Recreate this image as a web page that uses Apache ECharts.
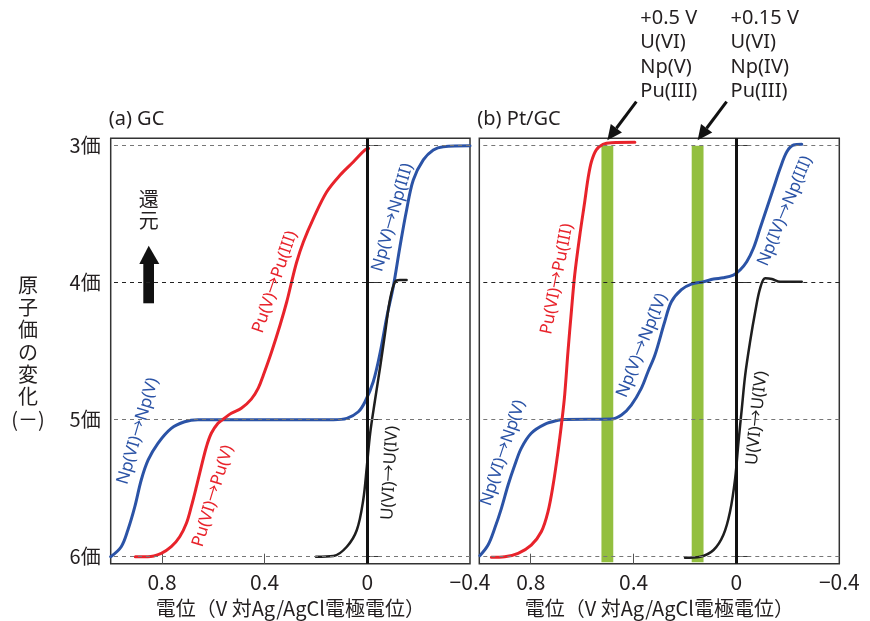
<!DOCTYPE html>
<html>
<head>
<meta charset="utf-8">
<script src="https://cdn.jsdelivr.net/npm/echarts@6/dist/echarts.min.js"></script>
<style>
  html, body { margin: 0; padding: 0; background: #fff; }
  #chart { width: 870px; height: 621px; }
</style>
</head>
<body>
<div id="chart"></div>
<script>
// valence axis and potential axis ticks
const valenceTicks = [3, 4, 5, 6];
const potentialTicks = [0.8, 0.4, 0, -0.4];
const innerTicks = [0.8, 0.4];

// (a) GC electrode : [potential V vs Ag/AgCl, valence]
const gcNp = [[1.0, 6.0], [0.959, 5.927], [0.933, 5.805], [0.906, 5.635], [0.881, 5.44], [0.854, 5.294],
  [0.816, 5.172], [0.764, 5.063], [0.712, 5.015], [0.66, 5.0], [0.4, 5.0], [0.132, 5.0], [0.08, 4.99],
  [0.035, 4.942], [0.009, 4.869], [-0.023, 4.723], [-0.05, 4.51], [-0.076, 4.248], [-0.101, 4.029],
  [-0.127, 3.737], [-0.153, 3.469], [-0.179, 3.25], [-0.218, 3.104], [-0.257, 3.031], [-0.296, 3.007], [-0.4, 3.0]];
const gcPu = [[0.904, 6.0], [0.855, 6.0], [0.803, 5.975], [0.764, 5.927], [0.731, 5.854], [0.705, 5.756],
  [0.686, 5.635], [0.666, 5.489], [0.647, 5.343], [0.627, 5.197], [0.608, 5.099], [0.582, 5.026],
  [0.562, 4.997], [0.53, 4.953], [0.491, 4.917], [0.452, 4.85], [0.425, 4.77], [0.405, 4.674],
  [0.373, 4.504], [0.34, 4.309], [0.314, 4.139], [0.295, 3.993], [0.275, 3.847], [0.249, 3.701],
  [0.21, 3.53], [0.158, 3.336], [0.106, 3.214], [0.054, 3.117], [0.009, 3.031], [-0.005, 3.02]];
const gcU = [[0.2, 6.0], [0.132, 5.995], [0.08, 5.927], [0.041, 5.805], [0.016, 5.586], [0.002, 5.343],
  [-0.011, 5.099], [-0.03, 4.856], [-0.05, 4.613], [-0.069, 4.369], [-0.088, 4.126], [-0.108, 3.993],
  [-0.127, 3.98], [-0.153, 3.98]];

// (b) Pt/GC electrode
const ptNp = [[0.998, 5.993], [0.966, 5.915], [0.94, 5.793], [0.914, 5.647], [0.888, 5.477], [0.862, 5.331],
  [0.837, 5.209], [0.798, 5.099], [0.746, 5.034], [0.694, 5.004], [0.668, 4.998], [0.486, 4.995],
  [0.447, 4.966], [0.409, 4.893], [0.37, 4.771], [0.344, 4.65], [0.317, 4.528], [0.279, 4.285],
  [0.253, 4.139], [0.214, 4.05], [0.175, 4.01], [0.128, 3.993], [0.089, 3.973], [0.051, 3.964],
  [0.012, 3.944], [-0.014, 3.907], [-0.04, 3.847], [-0.066, 3.749], [-0.092, 3.603], [-0.118, 3.457],
  [-0.144, 3.311], [-0.17, 3.165], [-0.196, 3.044], [-0.222, 2.995], [-0.254, 2.99]];
const ptPu = [[0.953, 6.004], [0.901, 6.0], [0.849, 5.975], [0.798, 5.915], [0.759, 5.818], [0.733, 5.672],
  [0.713, 5.477], [0.694, 5.234], [0.678, 4.995], [0.668, 4.82], [0.655, 4.5], [0.642, 4.212],
  [0.629, 3.944], [0.609, 3.652], [0.59, 3.409], [0.577, 3.238], [0.564, 3.117], [0.545, 3.03],
  [0.519, 2.99], [0.486, 2.978], [0.395, 2.975]];
const ptU = [[0.2, 6.007], [0.141, 6.0], [0.089, 5.951], [0.051, 5.842], [0.025, 5.672], [0.005, 5.428],
  [-0.008, 5.161], [-0.021, 4.917], [-0.034, 4.674], [-0.053, 4.431], [-0.073, 4.212], [-0.092, 4.041],
  [-0.112, 3.968], [-0.138, 3.973], [-0.17, 3.993], [-0.254, 3.993]];

// electrolysis windows on Pt/GC
const windowCenters = [0.502, 0.151];
const windowHalfWidth = 0.023;
const windowNotes = [['+0.5 V', 'U(VI)', 'Np(V)', 'Pu(III)'], ['+0.15 V', 'U(VI)', 'Np(IV)', 'Pu(III)']];

const panelTitles = ['(a) GC', '(b) Pt/GC'];
const xName = '電位（V 対Ag/AgCl電極電位）';

const RED = '#e8232b', BLUE = '#2b53a6', BLACK = '#1e1e1e', GREEN = '#93bf3f', TXT = '#231f20';
const FONT = '"Noto Sans CJK JP", "Noto Sans", sans-serif';
const LATIN = '"Noto Sans", "Noto Sans CJK JP", sans-serif';

const chart = echarts.init(document.getElementById('chart'));

const grids = [
  { left: 110.7, top: 138.3, width: 359.3, height: 425.4 },
  { left: 479.3, top: 138.3, width: 360, height: 425.4 }
].map(g => Object.assign(g, { show: true, borderColor: '#333', borderWidth: 1.5, backgroundColor: 'transparent', outerBoundsMode: 'none' }));

const xAxes = [0, 1].map(i => ({
  gridIndex: i, type: 'value', min: -0.4, max: 1.0, inverse: true,
  axisLine: { show: false }, splitLine: { show: false },
  axisTick: { inside: true, length: 10, customValues: innerTicks, lineStyle: { color: '#555', width: 1 } },
  axisLabel: {
    customValues: potentialTicks, margin: 8, fontSize: 21, color: TXT, fontFamily: FONT,
    formatter: v => (v < 0 ? '−' + (-v) : String(v))
  },
  name: xName, nameLocation: 'middle', nameGap: 35,
  nameTextStyle: { fontSize: 20, color: TXT, fontFamily: FONT }
}));

const yAxes = [0, 1].map(i => ({
  gridIndex: i, type: 'value', min: 2.946, max: 6.051, inverse: true,
  axisLine: { show: false }, splitLine: { show: false },
  axisTick: { inside: true, length: 12, customValues: valenceTicks, lineStyle: { color: '#333', width: 1 } },
  axisLabel: {
    show: i === 0, customValues: valenceTicks, margin: 10, fontSize: 20, color: TXT, fontFamily: FONT,
    formatter: v => v + '価'
  }
}));

function curve(name, data, color, idx, width) {
  return {
    name, type: 'line', data, xAxisIndex: idx, yAxisIndex: idx,
    showSymbol: false, smooth: 0.35, z: 3,
    lineStyle: { color, width, cap: 'round', join: 'round' }, itemStyle: { color }
  };
}

// dashed valence guides and green windows, drawn under curves
function backdrop(idx) {
  const s = {
    type: 'line', data: [], xAxisIndex: idx, yAxisIndex: idx, z: 1, silent: true,
    markLine: {
      symbol: ['none', 'none'], silent: true, label: { show: false },
      data: valenceTicks.map(v => ({
        yAxis: v, lineStyle: { color: v === 4 ? '#222' : '#777', type: [4, 4], width: 1 }
      }))
    }
  };
  if (idx === 1) {
    s.markArea = {
      silent: true, itemStyle: { color: GREEN, opacity: 1 },
      data: windowCenters.map(c => [
        { xAxis: c + windowHalfWidth, yAxis: 3 },
        { xAxis: c - windowHalfWidth, yAxis: 6.04 }
      ])
    };
  }
  return s;
}

function zeroLine(idx) {
  return {
    type: 'line', data: [], xAxisIndex: idx, yAxisIndex: idx, z: 5, silent: true,
    markLine: {
      symbol: ['none', 'none'], silent: true, label: { show: false },
      data: [{ xAxis: 0, lineStyle: { color: '#111', width: 3, type: 'solid' } }]
    }
  };
}

chart.setOption({
  animation: false,
  grid: grids, xAxis: xAxes, yAxis: yAxes,
  series: [
    backdrop(0), backdrop(1),
    curve('Np GC', gcNp, BLUE, 0, 3), curve('Pu GC', gcPu, RED, 0, 3), curve('U GC', gcU, BLACK, 0, 2.5),
    curve('Np Pt', ptNp, BLUE, 1, 3), curve('Pu Pt', ptPu, RED, 1, 3), curve('U Pt', ptU, BLACK, 1, 2.5),
    zeroLine(0), zeroLine(1)
  ]
});

const px = (idx, p) => chart.convertToPixel({ gridIndex: idx }, p);

function arrow(tail, tip, color, w, headLen, headW) {
  const dx = tip[0] - tail[0], dy = tip[1] - tail[1];
  const L = Math.hypot(dx, dy), ux = dx / L, uy = dy / L;
  const base = [tip[0] - ux * headLen, tip[1] - uy * headLen];
  const nx = -uy * headW / 2, ny = ux * headW / 2;
  return [
    { type: 'line', z: 10, shape: { x1: tail[0], y1: tail[1], x2: base[0], y2: base[1] }, style: { stroke: color, lineWidth: w } },
    { type: 'polygon', z: 10, shape: { points: [tip, [base[0] + nx, base[1] + ny], [base[0] - nx, base[1] - ny]] }, style: { fill: color } }
  ];
}

// curve labels: panel, anchor [V, valence], rotation deg, colour
const curveLabels = [
  [0, 'Np(VI)→Np(V)', [0.894, 5.083], 73.6, BLUE],
  [0, 'Pu(VI)→Pu(V)', [0.601, 5.557], 73, RED],
  [0, 'Pu(V)→Pu(III)', [0.360, 3.995], 71, RED],
  [0, 'Np(V)→Np(III)', [-0.098, 3.524], 74, BLUE],
  [0, 'U(VI)→U(IV)', [-0.088, 5.389], 87, BLACK],
  [1, 'Np(VI)→Np(V)', [0.908, 5.243], 71.6, BLUE],
  [1, 'Pu(VI)→Pu(III)', [0.698, 3.973], 79, RED],
  [1, 'Np(V)→Np(IV)', [0.367, 4.458], 68, BLUE],
  [1, 'Np(IV)→Np(III)', [-0.189, 3.477], 67.4, BLUE],
  [1, 'U(VI)→U(IV)', [-0.079, 4.988], 84, BLACK]
];

const graphic = [];
curveLabels.forEach(([idx, text, at, rot, color]) => {
  const p = px(idx, at);
  graphic.push({
    type: 'text', x: p[0], y: p[1], rotation: rot * Math.PI / 180, z: 10,
    style: { text, fill: color, fontSize: 17, fontFamily: LATIN, align: 'center', verticalAlign: 'middle' }
  });
});

// panel titles
[0, 1].forEach(i => {
  graphic.push({
    type: 'text', x: grids[i].left - 2, y: 119,
    style: { text: panelTitles[i], fill: TXT, fontSize: 20, fontFamily: LATIN, align: 'left', verticalAlign: 'middle' }
  });
});

// window arrows and notes
windowCenters.forEach((c, k) => {
  const tip = px(1, [c, 2.96]);
  const tail = [tip[0] + 29, tip[1] - 38.5];
  graphic.push(...arrow(tail, tip, '#111', 3, 15, 14));
  graphic.push({
    type: 'text', x: tip[0] + 33, y: 6,
    style: { text: windowNotes[k].join('\n'), fill: TXT, fontSize: 20, lineHeight: 24.5, fontFamily: LATIN, align: 'left', verticalAlign: 'top' }
  });
});

// y axis name
graphic.push({
  type: 'text', x: 28, y: 274,
  style: { text: ['原', '子', '価', 'の', '変', '化', '(－)'].join('\n'), fill: TXT, fontSize: 20, lineHeight: 22.3, fontFamily: FONT, align: 'center', verticalAlign: 'top' }
});

// reduction arrow
graphic.push({
  type: 'text', x: 148.7, y: 189,
  style: { text: '還\n元', fill: TXT, fontSize: 20, lineHeight: 21, fontFamily: FONT, align: 'center', verticalAlign: 'top' }
});
graphic.push({ type: 'rect', shape: { x: 143.3, y: 262, width: 10.7, height: 41.3 }, style: { fill: '#111' } });
graphic.push({ type: 'polygon', shape: { points: [[139.3, 264], [148.7, 245.7], [159.3, 264]] }, style: { fill: '#111' } });

chart.setOption({ graphic });
</script>
</body>
</html>
